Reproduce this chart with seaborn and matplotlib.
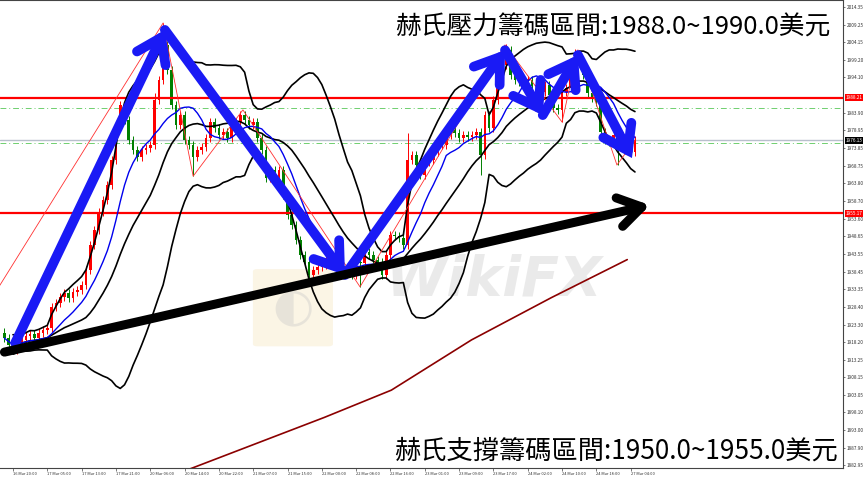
import numpy as np
import pandas as pd
import matplotlib
matplotlib.use("Agg")
import matplotlib.pyplot as plt
from matplotlib.patches import FancyBboxPatch
import seaborn as sns

# H1 closes (one per bar, bar 0 = 16 Mar 18:00)
closes = [
    1919.4, 1917.4, 1916.0, 1918.3, 1918.85, 1920.0, 1920.6, 1919.4, 1920.85, 1921.7,
    1922.3, 1928.3, 1929.45, 1931.2, 1932.3, 1930.9, 1932.6, 1933.2, 1934.6, 1938.9,
    1946.1, 1950.4, 1955.5, 1959.0, 1963.3, 1970.4, 1980.45, 1986.2, 1981.9, 1976.2,
    1973.3, 1971.3, 1973.3, 1973.9, 1974.7, 1987.6, 1993.35, 2003.4, 1996.2, 1986.2,
    1980.45, 1983.3, 1976.2, 1974.7, 1971.3, 1973.3, 1974.15, 1976.7, 1981.3, 1979.6,
    1977.6, 1978.45, 1976.7, 1979.9, 1981.3, 1983.3, 1981.9, 1980.45, 1981.3, 1976.7,
    1973.3, 1965.3, 1967.6, 1965.55, 1967.6, 1960.4, 1954.7, 1951.8, 1947.5, 1943.2,
    1941.2, 1937.5, 1938.9, 1939.8, 1940.3, 1941.8, 1941.2, 1940.3, 1939.5, 1938.3,
    1938.9, 1937.5, 1941.2, 1940.9, 1944.1, 1943.2, 1941.8, 1941.2, 1937.5, 1943.2,
    1948.9, 1948.65, 1948.1, 1946.1, 1970.4, 1971.9, 1969.0, 1966.1, 1969.85, 1970.4,
    1972.7, 1974.7, 1974.7, 1977.6, 1979.0, 1978.2, 1976.7, 1977.6, 1977.0, 1977.6,
    1978.45, 1971.9, 1983.3, 1979.6, 1987.6, 1994.8, 1997.65, 2001.9, 1994.8, 1993.35,
    1992.8, 1993.35, 1993.35, 1991.6, 1991.6, 1989.9, 1991.9, 1989.05, 1985.3, 1984.75,
    1989.9, 1991.05, 1994.8, 2000.5, 1998.5, 1994.8, 1989.6, 1988.2, 1987.0, 1978.45,
    1976.2, 1975.6, 1977.6, 1974.7, 1975.6, 1974.7, 1972.7, 1976.13,
]
first_open = 1921.0
wick_high = {35: 1989.5, 37: 2009.7, 94: 1978.2, 117: 2003.7, 133: 2002.3}
wick_low = {44: 1965.8, 83: 1934.1, 111: 1966.0, 130: 1981.3, 143: 1969.0}

x_tick_bars = list(range(2, 148, 8))
x_tick_labels = ["16 Mar 20:00", "17 Mar 05:00", "17 Mar 13:00", "17 Mar 21:00",
                 "20 Mar 06:00", "20 Mar 14:00", "20 Mar 22:00", "21 Mar 07:00",
                 "21 Mar 15:00", "22 Mar 00:00", "22 Mar 08:00", "22 Mar 16:00",
                 "23 Mar 01:00", "23 Mar 09:00", "23 Mar 17:00", "24 Mar 02:00",
                 "24 Mar 10:00", "24 Mar 18:00", "27 Mar 04:00"]
y_ticks = [2014.35, 2009.25, 2004.15, 1999.20, 1994.10, 1983.90, 1978.95, 1973.85,
           1968.75, 1963.80, 1958.70, 1953.60, 1948.65, 1943.55, 1938.45, 1933.35,
           1928.40, 1923.30, 1918.20, 1913.25, 1908.15, 1903.05, 1898.10, 1893.00,
           1887.90, 1882.95]

resist_level = 1988.21
support_level = 1955.17
last_price = 1976.13
green_levels = [1985.2, 1975.2]

zigzag_bars = [-6, 37, 44, 55.6, 82.9, 116.7, 130.0, 133.7, 142.8, 147]
zigzag_vals = [1924.8, 2009.7, 1965.8, 1984.8, 1934.1, 2003.4, 1981.3, 2002.0, 1969.0, 1976.1]

long_ma_bars = [38, 43.6, 74.6, 90.2, 108.9, 127.5, 145.2]
long_ma_vals = [1879.5, 1882.1, 1896.7, 1904.5, 1918.9, 1931.0, 1941.9]

blue_arrow_bars = [2.5, 37.4, 79.4, 116.7, 125.5, 133.7, 146.3]
blue_arrow_vals = [1918.0, 2007.7, 1937.5, 2001.9, 1983.3, 2000.5, 1971.0]
black_arrow_bars = [0.0, 150.5]
black_arrow_vals = [1915.4, 1957.5]

title_top = "赫氏壓力籌碼區間:1988.0~1990.0美元"
title_bottom = "赫氏支撐籌碼區間:1950.0~1955.0美元"

# ---- build frame ----
df = pd.DataFrame({"bar": np.arange(len(closes)), "close": closes})
df["open"] = df["close"].shift(1).fillna(first_open)
df["high"] = df[["open", "close"]].max(axis=1) + 1.2
df["low"] = df[["open", "close"]].min(axis=1) - 1.2
for k, v in wick_high.items():
    df.loc[k, "high"] = v
for k, v in wick_low.items():
    df.loc[k, "low"] = v
roll = df["close"].rolling(20, min_periods=3)
df["mid"] = roll.mean()
df["upper"] = df["mid"] + 2 * roll.std(ddof=0)
df["lower"] = df["mid"] - 2 * roll.std(ddof=0)
df["ma10"] = df["close"].rolling(10, min_periods=1).mean()

sns.set_style("white")
plt.rcParams["font.family"] = ["Noto Sans CJK TC", "DejaVu Sans"]

fig = plt.figure(figsize=(8.67, 4.78), dpi=100)
ax = fig.add_axes([0.0, 10 / 478, 843 / 867, 468 / 478])

# candles
up = df["close"] >= df["open"]
for mask, col in [(up, "#ff0000"), (~up, "#008000")]:
    d = df[mask]
    ax.vlines(d["bar"], d["low"], d["high"], color=col, lw=0.7, zorder=2)
    ax.bar(d["bar"], (d["close"] - d["open"]).abs().clip(lower=0.25),
           bottom=d[["open", "close"]].min(axis=1), width=0.62, color=col,
           linewidth=0, zorder=2)

# levels
ax.axhline(resist_level, color="#ff0000", lw=1.6, zorder=3)
ax.axhline(support_level, color="#ff0000", lw=1.6, zorder=3)
ax.axhline(last_price, color="#b9c0cc", lw=1.0, zorder=1)
for g in green_levels:
    ax.axhline(g, color="#6fcf6f", lw=0.7, ls=(0, (6, 3, 1, 3)), zorder=1)

# indicators
for col in ["upper", "mid", "lower"]:
    sns.lineplot(data=df, x="bar", y=col, color="black", lw=1.2, ax=ax, zorder=4)
sns.lineplot(data=df, x="bar", y="ma10", color="#0000ee", lw=1.0, ax=ax, zorder=4)
sns.lineplot(x=zigzag_bars, y=zigzag_vals, color="#ff3030", lw=0.6, ax=ax, zorder=4)
sns.lineplot(x=long_ma_bars, y=long_ma_vals, color="#8b0000", lw=1.2, ax=ax, zorder=4)

# watermark
ax.add_patch(FancyBboxPatch((0.305, 0.265), 0.085, 0.155, boxstyle="round,pad=0.005",
                            transform=ax.transAxes, fc="#f5e6c0", ec="none",
                            alpha=0.4, zorder=1))
ax.text(0.347, 0.342, "◐", transform=ax.transAxes, fontsize=34, color="#c4c4c4",
        alpha=0.35, ha="center", va="center", family=["DejaVu Sans"], zorder=1)
ax.text(0.585, 0.40, "WikiFX", transform=ax.transAxes, fontsize=40, color="#999999",
        alpha=0.2, ha="center", va="center", fontweight="bold", style="italic",
        family=["DejaVu Sans"], zorder=1)

# arrows
arrow_blue = dict(arrowstyle="->,head_length=0.55,head_width=0.38", color="#1a1af5",
                  lw=7, mutation_scale=30, shrinkA=0, shrinkB=0, capstyle="round",
                  joinstyle="miter")
for i in range(len(blue_arrow_bars) - 1):
    ax.annotate("", xy=(blue_arrow_bars[i + 1], blue_arrow_vals[i + 1]),
                xytext=(blue_arrow_bars[i], blue_arrow_vals[i]),
                arrowprops=arrow_blue, zorder=6)
ax.annotate("", xy=(black_arrow_bars[1], black_arrow_vals[1]),
            xytext=(black_arrow_bars[0], black_arrow_vals[0]),
            arrowprops=dict(arrowstyle="->,head_length=0.55,head_width=0.35", color="black",
                            lw=6.5, mutation_scale=30, shrinkA=0, shrinkB=0),
            zorder=6)

# texts
ax.text(0.985, 0.94, title_top, transform=ax.transAxes, ha="right", va="center",
        fontsize=18.5, color="black", zorder=7)
ax.text(0.994, 0.036, title_bottom, transform=ax.transAxes, ha="right", va="center",
        fontsize=18.9, color="black", zorder=7,
        bbox=dict(fc="white", ec="none", pad=1))

# axes styling
ax.set_xlim(-1.03, 195.5)
ax.set_ylim(1882.2, 2016.27)
ax.set_xlabel("")
ax.set_ylabel("")
ax.yaxis.tick_right()
ax.set_yticks(y_ticks)
ax.set_yticklabels([f"{v:.2f}" for v in y_ticks])
ax.set_xticks(x_tick_bars)
ax.set_xticklabels(x_tick_labels, ha="left")
ax.tick_params(axis="y", labelsize=3.4, length=1.5, width=0.5, color="#444444",
               labelcolor="#333333", pad=1, direction="out", right=True, left=False)
ax.tick_params(axis="x", labelsize=2.9, length=2, width=0.5, color="#444444",
               labelcolor="#333333", pad=0.8, direction="out", bottom=True)
for s in ax.spines.values():
    s.set_color("#444444")
    s.set_linewidth(0.8)
ax.spines["left"].set_visible(False)

# price boxes on the right scale
trans = ax.get_yaxis_transform()
for lvl, bg in [(resist_level, "#ff0000"), (support_level, "#ff0000"), (last_price, "black")]:
    ax.text(1.003, lvl, f"{lvl:.2f}", transform=trans, ha="left", va="center",
            fontsize=3.4, color="white", zorder=8, clip_on=False,
            bbox=dict(fc=bg, ec="none", pad=0.7))

fig.savefig("out.png", dpi=100)
